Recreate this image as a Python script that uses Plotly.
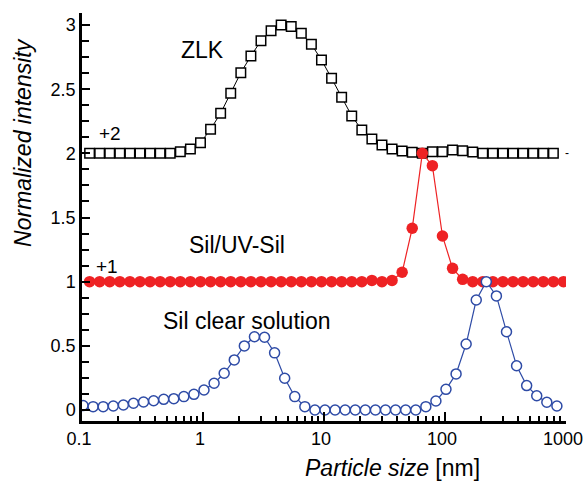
import plotly.graph_objects as go

# Particle size bins [nm]
size_blue = [0.1019, 0.1235, 0.1496, 0.1813, 0.2196, 0.2661, 0.3224, 0.3906, 0.4732, 0.5733,
             0.6946, 0.8414, 1.019, 1.235, 1.496, 1.813, 2.196, 2.661, 3.224, 3.906,
             4.732, 5.733, 6.946, 8.414, 10.19, 12.35, 14.96, 18.13, 21.96, 26.61,
             32.24, 39.06, 47.32, 57.33, 69.46, 84.14, 101.9, 123.5, 149.6, 181.3,
             219.6, 266.1, 322.4, 390.6, 473.2, 573.3, 694.6, 841.4]
size_red = [0.1155, 0.1399, 0.1695, 0.2054, 0.2488, 0.3014, 0.3652, 0.4424, 0.5360, 0.6494,
            0.7868, 0.9532, 1.155, 1.399, 1.695, 2.054, 2.488, 3.014, 3.652, 4.424,
            5.360, 6.494, 7.868, 9.532, 11.55, 13.99, 16.95, 20.54, 24.88, 30.14,
            36.52, 44.24, 53.60, 64.94, 78.68, 95.32, 115.5, 139.9, 169.5, 205.4,
            248.8, 301.4, 365.2, 442.4, 536.0, 649.4, 786.8, 953.2]
size_zlk = size_red[:47]

# Normalized intensities (with offsets +1 / +2 already applied)
sil_clear = [0.034, 0.026, 0.026, 0.031, 0.039, 0.052, 0.062, 0.072, 0.083, 0.088,
             0.104, 0.122, 0.156, 0.208, 0.286, 0.39, 0.499, 0.571, 0.567, 0.445,
             0.247, 0.104, 0.026, 0.0, 0.0, 0.0, 0.0, 0.0, 0.0, 0.0,
             0.0, 0.0, 0.0, 0.0, 0.026, 0.07, 0.161, 0.281, 0.514, 0.857,
             1.0, 0.889, 0.61, 0.345, 0.19, 0.111, 0.06, 0.031]
sil_uv = [1.0, 1.0, 1.0, 1.0, 1.0, 1.0, 1.0, 1.0, 1.0, 1.0,
          1.0, 1.0, 1.0, 1.0, 1.0, 1.0, 1.0, 1.0, 1.0, 1.0,
          1.0, 1.0, 1.0, 1.0, 1.0, 1.0, 1.0, 1.0, 1.01, 1.0,
          1.01, 1.073, 1.416, 2.0, 1.904, 1.356, 1.104, 1.018, 1.0, 1.0,
          1.0, 1.0, 1.0, 1.0, 1.0, 1.0, 1.0, 1.0]
zlk = [2.0, 2.0, 2.0, 2.0, 2.0, 2.0, 2.0, 2.0, 2.0, 2.013,
       2.034, 2.083, 2.188, 2.313, 2.468, 2.629, 2.759, 2.878, 2.956, 3.0,
       2.988, 2.936, 2.85, 2.728, 2.585, 2.437, 2.292, 2.182, 2.112, 2.065,
       2.034, 2.019, 2.008, 2.0, 2.013, 2.013, 2.026, 2.02, 2.01, 2.0,
       2.0, 2.0, 2.0, 2.0, 2.0, 2.0, 2.0]

x_ticks = [0.1, 1, 10, 100, 1000]
x_ticktext = ["0.1", "1", "10", "100", "1000"]
y_ticks = [0, 0.5, 1, 1.5, 2, 2.5, 3]
y_ticktext = ["0", "0.5", "1", "1.5", "2", "2.5", "3"]

FONT = "Arial, 'Liberation Sans', sans-serif"

fig = go.Figure()
fig.add_trace(go.Scatter(
    x=size_zlk, y=zlk, mode="lines+markers",
    line=dict(color="black", width=1),
    marker=dict(symbol="square", size=9.5, color="white",
                line=dict(color="black", width=1.5)),
    showlegend=False))
fig.add_trace(go.Scatter(
    x=size_red, y=sil_uv, mode="lines+markers",
    line=dict(color="#EE2224", width=1.2),
    marker=dict(symbol="circle", size=11.5, color="#EE2224",
                line=dict(width=0)),
    showlegend=False))
fig.add_trace(go.Scatter(
    x=size_blue, y=sil_clear, mode="lines+markers",
    line=dict(color="#2E4BA6", width=1.2),
    marker=dict(symbol="circle", size=10, color="white",
                line=dict(color="#2E4BA6", width=1.5)),
    showlegend=False))

minor_x = [m * d for d in [0.1, 1, 10, 100] for m in range(2, 10)]

fig.update_xaxes(
    type="log", range=[-1.0002, 3.0002], automargin=False,
    tickmode="array", tickvals=x_ticks, ticktext=x_ticktext,
    ticks="inside", ticklen=9, tickwidth=2, tickcolor="black",
    ticklabelshift=-3, ticklabeloverflow="allow",
    minor=dict(tickmode="array", tickvals=minor_x, ticks="inside",
               ticklen=5, tickwidth=2, tickcolor="black", showgrid=False),
    showline=True, linecolor="black", linewidth=2.5,
    showgrid=False, zeroline=False,
    tickfont=dict(family=FONT, size=18, color="black"))
fig.update_yaxes(
    range=[-0.086, 3.094], automargin=False,
    tickmode="array", tickvals=y_ticks, ticktext=y_ticktext,
    ticks="inside", ticklen=8, tickwidth=2, tickcolor="black",
    minor=dict(dtick=0.125, tick0=0, ticks="inside", ticklen=7,
               tickwidth=2, tickcolor="black", showgrid=False),
    showline=True, linecolor="black", linewidth=2.5,
    showgrid=False, zeroline=False,
    tickfont=dict(family=FONT, size=18, color="black"))

ann_font = dict(family=FONT, size=23, color="black")
small_font = dict(family=FONT, size=19, color="black")
fig.add_annotation(x=-0.008, y=2.806, text="ZLK", showarrow=False, font=ann_font)
fig.add_annotation(x=-0.769, y=2.151, text="+2", showarrow=False, font=small_font)
fig.add_annotation(x=0.279, y=1.286, text="Sil/UV-Sil", showarrow=False, font=ann_font)
fig.add_annotation(x=-0.793, y=1.117, text="+1", showarrow=False, font=small_font)
fig.add_annotation(x=0.36, y=0.694, text="Sil clear solution", showarrow=False, font=ann_font)
fig.add_annotation(x=0.993, xref="paper", y=2.0, text="-", showarrow=False,
                   xanchor="left", font=dict(family=FONT, size=12, color="black"))

fig.add_annotation(xref="paper", yref="paper", x=-0.122, y=0.684,
                   xanchor="center", yanchor="middle",
                   text="<i>Normalized intensity</i>", textangle=-90,
                   showarrow=False, font=dict(family=FONT, size=23, color="black"))
fig.add_annotation(xref="paper", yref="paper", x=0.6405, y=-0.115,
                   xanchor="center", yanchor="middle",
                   text="<i>Particle size</i> [nm]",
                   showarrow=False, font=dict(family=FONT, size=23, color="black"))

fig.update_layout(
    width=585, height=483,
    margin=dict(l=82, r=19, t=13, b=62, autoexpand=False),
    paper_bgcolor="white", plot_bgcolor="white",
)

fig.write_html("out.html")
